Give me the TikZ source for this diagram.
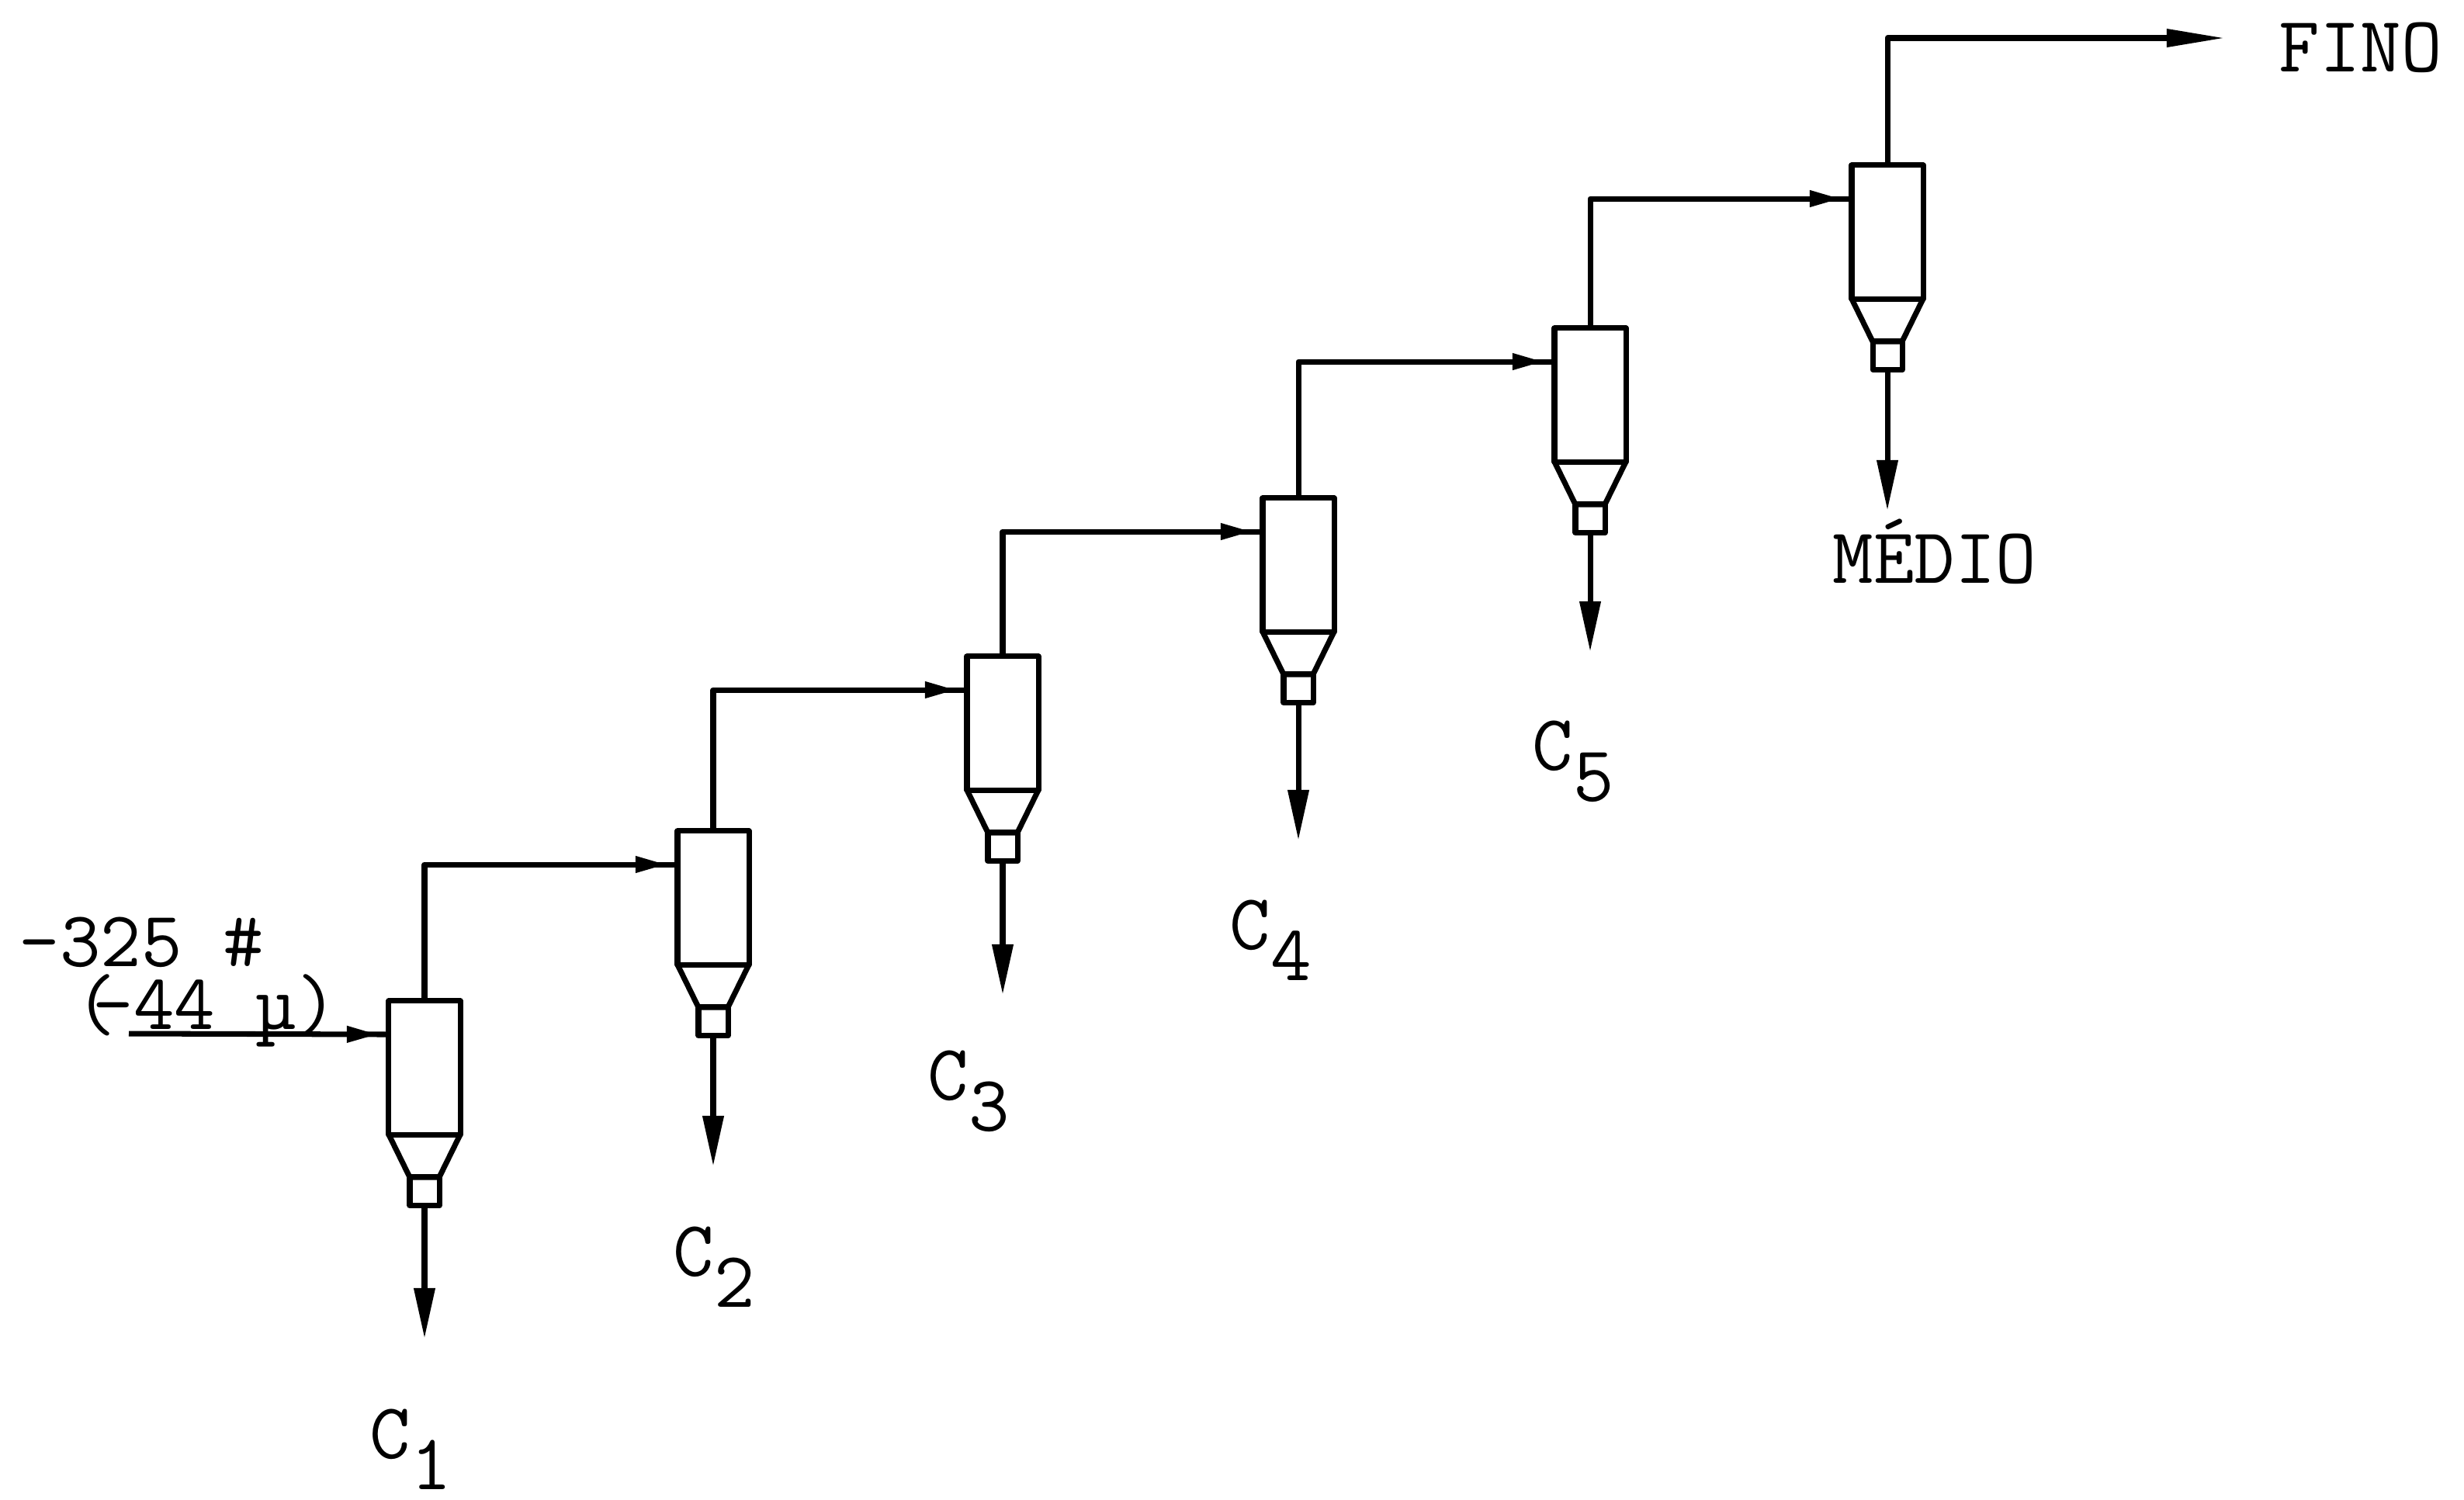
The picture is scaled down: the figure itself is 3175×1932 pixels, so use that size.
\documentclass[tikz,border=0pt]{standalone}
\usepackage{tikz}
\usetikzlibrary{arrows.meta,decorations.markings}
\tikzset{
  linha/.style={draw,line width=2pt,line join=round},
  corpo/.style={linha,rectangle,inner sep=0pt,outer sep=0pt,minimum width=0.92cm,minimum height=1.72cm},
  bico/.style={linha,rectangle,inner sep=0pt,outer sep=0pt,minimum width=0.38cm,minimum height=0.37cm},
  fluxo/.style={linha,postaction={decorate},decoration={markings,
    mark=at position -4pt with {\arrow{Triangle[length=4mm,width=2mm]}}}},
  saida/.style={linha,-{Triangle[length=6.5mm,width=2.6mm]}},
  rotulo/.style={anchor=base west,inner sep=0pt,font=\fontsize{29}{32}\selectfont\ttfamily},
}
% nome, x do eixo, y do topo, y do fim da saida
\newcommand{\ciclone}[4]{%
  \node[corpo] (#1) at (#2,#3+86) {};
  \coordinate (#1e) at (#2-46,#3+43);
  \draw[linha] (#1.south west) -- ++(27,55) -- ++(38,0) -- (#1.south east);
  \node[bico] (#1b) at (#2,#3+245) {};
  \coordinate (#1f) at (#2,#4);
  \draw[saida] (#1b.south) -- (#1f);
}
\newcommand{\corte}[4]{\node[rotulo] (#1) at (#2,#3) {C\raisebox{-.4em}{#4}};}
\begin{document}
\begin{tikzpicture}[x=0.01cm,y=-0.01cm]
\useasboundingbox (0,0) rectangle (3175,1932);
\ciclone{c1}{547}{1290}{1725}
\ciclone{c2}{919}{1071}{1503}
\ciclone{c3}{1292}{846}{1282}
\ciclone{c4}{1673}{642}{1083}
\ciclone{c5}{2049}{423}{840}
\ciclone{c6}{2432}{213}{658}
\coordinate (ent) at (166,1332);
\coordinate (fim) at (2867,49);
\draw[fluxo] (ent) -- (c1e);
\draw[fluxo] (c1.north) |- (c2e);
\draw[fluxo] (c2.north) |- (c3e);
\draw[fluxo] (c3.north) |- (c4e);
\draw[fluxo] (c4.north) |- (c5e);
\draw[fluxo] (c5.north) |- (c6e);
\draw[linha,-{Triangle[length=7.5mm,width=2.2mm]}] (c6.north) |- (fim);
\node[rotulo] (fino) at (2936,92) {FINO};
\node[rotulo] (medio) at (2361,751) {MÉDIO};
\node[rotulo] (malha) at (24,1245) {-325 \#};
\node[rotulo] (abert) at (97,1326) {(\hspace{-.3em}-44 µ)};
\corte{l1}{476}{1879}{1}
\corte{l2}{867}{1644}{2}
\corte{l3}{1195}{1417}{3}
\corte{l4}{1584}{1223}{4}
\corte{l5}{1974}{992}{5}
\end{tikzpicture}
\end{document}
